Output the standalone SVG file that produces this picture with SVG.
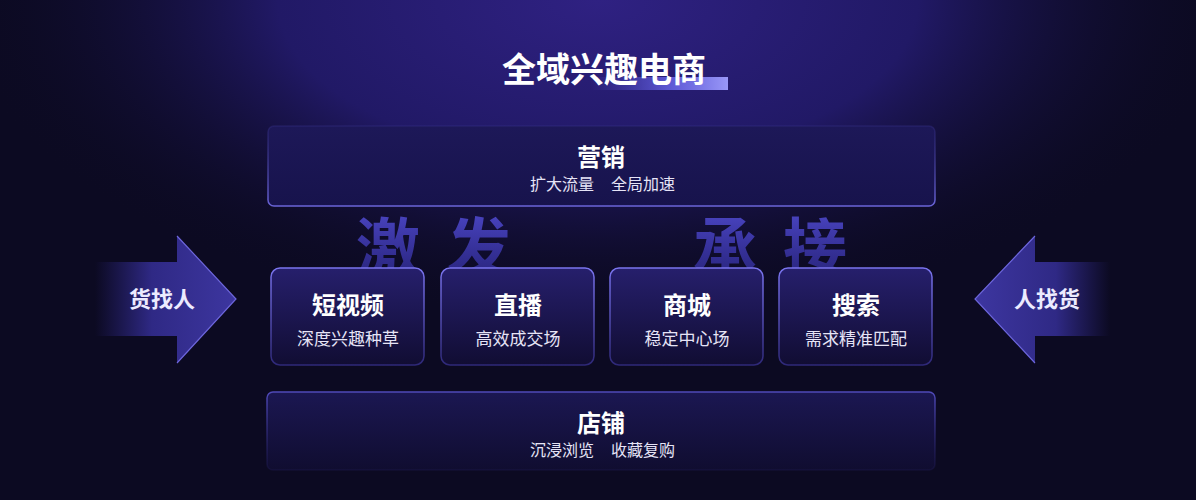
<svg xmlns="http://www.w3.org/2000/svg" width="1196" height="500" viewBox="0 0 1196 500">
  <defs>
    <radialGradient id="bgGlow" cx="598" cy="0" r="640" gradientUnits="userSpaceOnUse" gradientTransform="translate(598 0) scale(1 0.5) translate(-598 0)">
      <stop offset="0" stop-color="#2f2182"/>
      <stop offset="0.5" stop-color="#211966"/>
      <stop offset="1" stop-color="#0c0a22" stop-opacity="0"/>
    </radialGradient>
    <linearGradient id="bigBox" x1="0" y1="0" x2="0" y2="1">
      <stop offset="0" stop-color="#1d1858"/>
      <stop offset="1" stop-color="#17134c"/>
    </linearGradient>
    <linearGradient id="bigBoxStroke" x1="0" y1="0" x2="0" y2="1">
      <stop offset="0" stop-color="#3a3490" stop-opacity="0.3"/>
      <stop offset="1" stop-color="#6a64d8"/>
    </linearGradient>
    <linearGradient id="bigBox2" x1="0" y1="0" x2="0" y2="1">
      <stop offset="0" stop-color="#1b1752"/>
      <stop offset="1" stop-color="#100d30"/>
    </linearGradient>
    <linearGradient id="bigBox2Stroke" x1="0" y1="0" x2="0" y2="1">
      <stop offset="0" stop-color="#4f49b8"/>
      <stop offset="1" stop-color="#2a2470" stop-opacity="0.2"/>
    </linearGradient>
    <linearGradient id="card" x1="0" y1="0" x2="0" y2="1">
      <stop offset="0" stop-color="#261f6c"/>
      <stop offset="1" stop-color="#110d33"/>
    </linearGradient>
    <linearGradient id="cardStroke" x1="0" y1="0" x2="0" y2="1">
      <stop offset="0" stop-color="#7a74ee"/>
      <stop offset="1" stop-color="#2e2878"/>
    </linearGradient>
    <linearGradient id="bigChar" x1="0" y1="0" x2="0" y2="1">
      <stop offset="0" stop-color="#524cd0"/>
      <stop offset="1" stop-color="#3530a8" stop-opacity="0.6"/>
    </linearGradient>
    <linearGradient id="hl" x1="0" y1="0" x2="1" y2="0">
      <stop offset="0" stop-color="#5a57e0" stop-opacity="0"/>
      <stop offset="0.6" stop-color="#6e6bf0" stop-opacity="0.8"/>
      <stop offset="1" stop-color="#9a98f8"/>
    </linearGradient>
    <linearGradient id="arrowL" x1="95" y1="0" x2="237" y2="0" gradientUnits="userSpaceOnUse">
      <stop offset="0" stop-color="#2c2680" stop-opacity="0"/>
      <stop offset="0.4" stop-color="#2f2985"/>
      <stop offset="1" stop-color="#3d36a0"/>
    </linearGradient>
    <linearGradient id="arrowR" x1="1110" y1="0" x2="975" y2="0" gradientUnits="userSpaceOnUse">
      <stop offset="0" stop-color="#2c2680" stop-opacity="0"/>
      <stop offset="0.4" stop-color="#2f2985"/>
      <stop offset="1" stop-color="#3d36a0"/>
    </linearGradient>
  </defs>
  <style>
    .cjk { font-family: "Noto Sans CJK SC", "Noto Sans", sans-serif; }
    .title { font-size: 34px; font-weight: 700; fill: #ffffff; }
    .head { font-size: 24px; font-weight: 700; fill: #ffffff; }
    .sub { font-size: 16px; font-weight: 400; fill: #e6e4f6; }
    .csub { font-size: 17px; font-weight: 400; fill: #e6e4f6; }
    .arrowTxt { font-size: 22px; font-weight: 700; fill: #ecebff; }
    .big { font-size: 64px; font-weight: 700; fill: url(#bigChar); }
    .card { fill: url(#card); stroke: url(#cardStroke); stroke-width: 1.5; }
  </style>

  <rect x="0" y="0" width="1196" height="500" fill="#0c0a22"/>
  <rect x="0" y="0" width="1196" height="500" fill="url(#bgGlow)"/>

  <g id="title">
    <rect x="590" y="77" width="138" height="13" fill="url(#hl)"/>
    <text class="cjk title" x="604" y="82" text-anchor="middle">全域兴趣电商</text>
  </g>

  <g id="bg-chars">
    <text class="cjk big" x="388" y="271" text-anchor="middle">激</text>
    <text class="cjk big" x="479" y="271" text-anchor="middle">发</text>
    <text class="cjk big" x="725" y="271" text-anchor="middle">承</text>
    <text class="cjk big" x="815" y="271" text-anchor="middle">接</text>
  </g>

  <g id="marketing">
    <rect x="268" y="126" width="667" height="80" rx="6" fill="url(#bigBox)" stroke="url(#bigBoxStroke)" stroke-width="1.5"/>
    <text class="cjk head" x="601" y="166" text-anchor="middle">营销</text>
    <text class="cjk sub" x="562" y="190" text-anchor="middle">扩大流量</text>
    <text class="cjk sub" x="643" y="190" text-anchor="middle">全局加速</text>
  </g>

  <g id="short-video">
    <rect class="card" x="271" y="268" width="153" height="97" rx="9"/>
    <text class="cjk head" x="348" y="314" text-anchor="middle">短视频</text>
    <text class="cjk csub" x="348" y="345" text-anchor="middle">深度兴趣种草</text>
  </g>
  <g id="live">
    <rect class="card" x="441" y="268" width="153" height="97" rx="9"/>
    <text class="cjk head" x="518" y="314" text-anchor="middle">直播</text>
    <text class="cjk csub" x="518" y="345" text-anchor="middle">高效成交场</text>
  </g>
  <g id="mall">
    <rect class="card" x="610" y="268" width="153" height="97" rx="9"/>
    <text class="cjk head" x="687" y="314" text-anchor="middle">商城</text>
    <text class="cjk csub" x="687" y="345" text-anchor="middle">稳定中心场</text>
  </g>
  <g id="search">
    <rect class="card" x="779" y="268" width="153" height="97" rx="9"/>
    <text class="cjk head" x="856" y="314" text-anchor="middle">搜索</text>
    <text class="cjk csub" x="856" y="345" text-anchor="middle">需求精准匹配</text>
  </g>

  <g id="store">
    <rect x="267" y="392" width="668" height="78" rx="6" fill="url(#bigBox2)" stroke="url(#bigBox2Stroke)" stroke-width="1.5"/>
    <text class="cjk head" x="601" y="432" text-anchor="middle">店铺</text>
    <text class="cjk sub" x="562" y="456" text-anchor="middle">沉浸浏览</text>
    <text class="cjk sub" x="643" y="456" text-anchor="middle">收藏复购</text>
  </g>

  <g id="connectors">
    <g id="arrow-left">
      <path d="M95 262 H177 V236 L236 299 L177 363 V336 H95 Z" fill="url(#arrowL)"/>
      <path d="M177 236 L236 299 L177 363" fill="none" stroke="#6d66dc" stroke-width="1.2"/>
      <text class="cjk arrowTxt" x="162" y="307" text-anchor="middle">货找人</text>
    </g>
    <g id="arrow-right">
      <path d="M1110 262 H1035 V236 L975 299 L1035 363 V336 H1110 Z" fill="url(#arrowR)"/>
      <path d="M1035 236 L975 299 L1035 363" fill="none" stroke="#6d66dc" stroke-width="1.2"/>
      <text class="cjk arrowTxt" x="1047" y="307" text-anchor="middle">人找货</text>
    </g>
  </g>
</svg>
